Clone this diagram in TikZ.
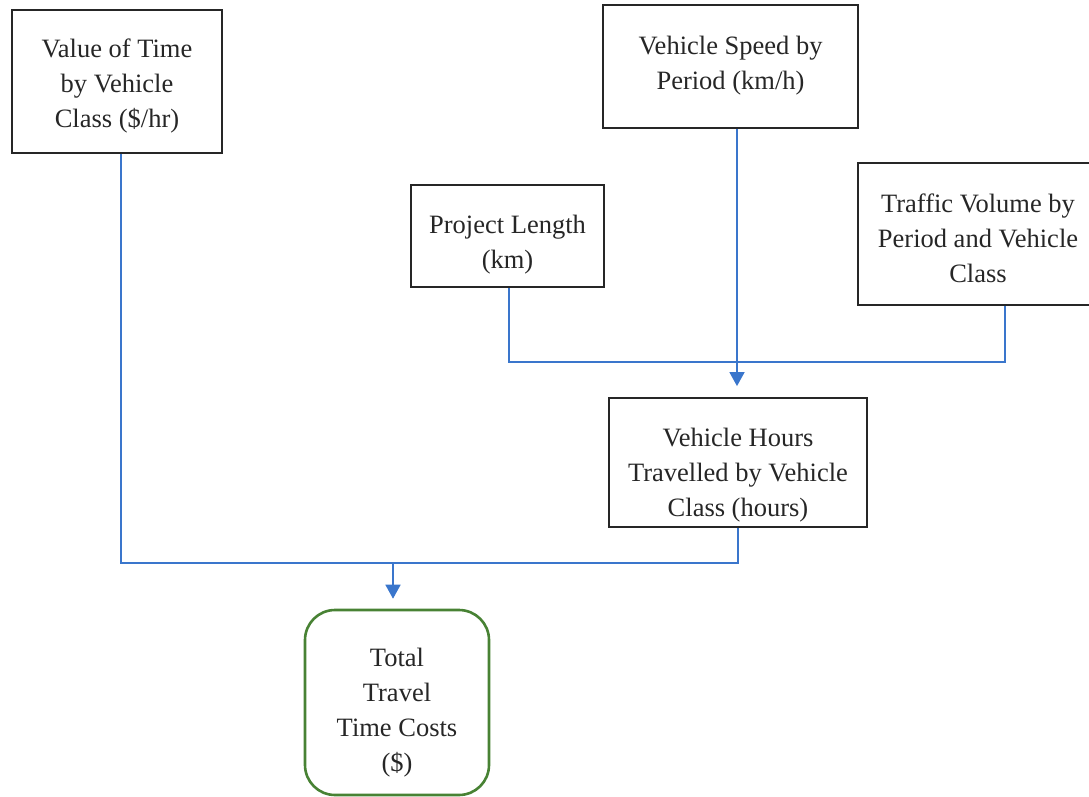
\documentclass[tikz,border=0pt]{standalone}
\usepackage{fontspec}
\setmainfont{Liberation Serif}
\usetikzlibrary{arrows.meta}

\definecolor{linkblue}{RGB}{58,118,204}
\definecolor{boxgreen}{RGB}{72,130,52}
\definecolor{inkgray}{RGB}{38,38,38}

\begin{document}
\begin{tikzpicture}[
            x=1pt, y=-1pt,
            box/.style={draw=inkgray, line width=1.8pt, text=inkgray, align=center,
                        inner sep=0pt, font=\fontsize{26.5pt}{35pt}\selectfont},
            result/.style={box, draw=boxgreen, line width=2.6pt, rounded corners=30pt},
            link/.style={draw=linkblue, line width=1.6pt},
            feed/.style={link, -{Triangle[width=15pt,length=14pt]}, fill=linkblue},
            ]
            \useasboundingbox (0,0) rectangle (1089,797);

            \node[box, minimum width=210pt, minimum height=143pt, text height=98pt] (vot) at (117,81.5)
                {Value of Time\\by Vehicle\\Class (\$/hr)};
            \node[box, minimum width=255pt, minimum height=123pt, text height=52pt] (speed) at (730.5,66.5)
                {Vehicle Speed by\\Period (km/h)};
            \node[box, minimum width=193pt, minimum height=102pt, text height=70pt] (length) at (507.5,236)
                {Project Length\\(km)};
            \node[box, minimum width=240pt, minimum height=142pt, text height=98pt] (traffic) at (978,234)
                {Traffic Volume by\\Period and Vehicle\\Class};
            \node[box, minimum width=258pt, minimum height=129pt, text height=114pt] (vht) at (738,462.5)
                {Vehicle Hours\\Travelled by Vehicle\\Class (hours)};
            \node[result, minimum width=184pt, minimum height=185pt, text height=144pt] (total) at (397,702.5)
                {Total\\Travel\\Time Costs\\(\$)};

            \coordinate (join1) at (737,362);
            \coordinate (join2) at (393,563);

            \draw[link] ([xshift=1.5pt]length.south) |- (join1) -| ([xshift=27pt]traffic.south);
            \draw[feed] (speed.south -| join1) -- ([yshift=11pt]vht.north -| join1);
            \draw[link] ([xshift=4pt]vot.south) |- (join2) -| (vht.south);
            \draw[feed] (join2) -- ([yshift=10pt]total.north -| join2);
        \end{tikzpicture}
\end{document}
